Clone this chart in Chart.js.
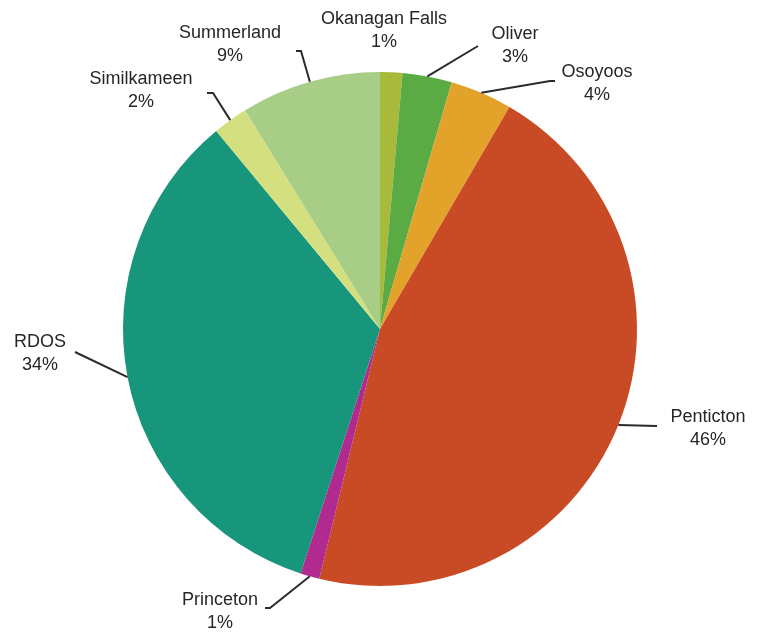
<!DOCTYPE html>
<html>
<head>
<meta charset="utf-8">
<script src="https://cdn.jsdelivr.net/npm/chart.js@4.4.0/dist/chart.umd.min.js"></script>
<style>
  html, body { margin: 0; padding: 0; background: #ffffff; }
  #wrap { width: 761px; height: 633px; }
</style>
</head>
<body>
<div id="wrap"><canvas id="shareChart" width="761" height="633"></canvas></div>
<script>
const categories = ['Okanagan Falls', 'Oliver', 'Osoyoos', 'Penticton', 'Princeton', 'RDOS', 'Similkameen', 'Summerland'];
const shares = [1.4, 3.1, 3.9, 45.4, 1.2, 34.0, 2.2, 8.8];
const shownPercent = ['1%', '3%', '4%', '46%', '1%', '34%', '2%', '9%'];
const sliceColors = ['#a9b93c', '#5bab45', '#e3a229', '#c94b26', '#b12a8f', '#17967c', '#d4df80', '#a7cd86'];

// where each label sits, and the elbow of its leader line (null = no leader)
const labelSpots = [
  { tx: 384, ty: 31, path: null },
  { tx: 515, ty: 46, path: [[478, 46]] },
  { tx: 597, ty: 84, path: [[550, 81], [555, 81]] },
  { tx: 708, ty: 429, path: [[657, 426]] },
  { tx: 220, ty: 612, path: [[270, 608], [265, 608]] },
  { tx: 40, ty: 354, path: [[75, 352]] },
  { tx: 141, ty: 91, path: [[213, 93], [207, 93]] },
  { tx: 230, ty: 45, path: [[301, 51], [296, 51]] }
];

const calloutPlugin = {
  id: 'callouts',
  afterDatasetsDraw(chart) {
    const ctx = chart.ctx;
    const arcs = chart.getDatasetMeta(0).data;
    ctx.save();
    arcs.forEach((arc, i) => {
      const spot = labelSpots[i];
      if (spot.path) {
        const mid = (arc.startAngle + arc.endAngle) / 2;
        const r = arc.outerRadius;
        ctx.beginPath();
        ctx.moveTo(arc.x + Math.cos(mid) * r, arc.y + Math.sin(mid) * r);
        spot.path.forEach(p => ctx.lineTo(p[0], p[1]));
        ctx.strokeStyle = '#2b2b2b';
        ctx.lineWidth = 2;
        ctx.stroke();
      }
      ctx.fillStyle = '#262626';
      ctx.font = '18px "Liberation Sans", Arial, sans-serif';
      ctx.textAlign = 'center';
      ctx.textBaseline = 'middle';
      ctx.fillText(categories[i], spot.tx, spot.ty - 11.5);
      ctx.fillText(shownPercent[i], spot.tx, spot.ty + 11.5);
    });
    ctx.restore();
  }
};

new Chart('shareChart', {
  type: 'pie',
  data: {
    labels: categories,
    datasets: [{
      data: shares,
      backgroundColor: sliceColors,
      borderWidth: 0
    }]
  },
  options: {
    responsive: false,
    animation: false,
    layout: { padding: { top: 72, bottom: 47, left: 123, right: 124 } },
    plugins: {
      legend: { display: false },
      tooltip: { enabled: false }
    }
  },
  plugins: [calloutPlugin]
});
</script>
</body>
</html>
